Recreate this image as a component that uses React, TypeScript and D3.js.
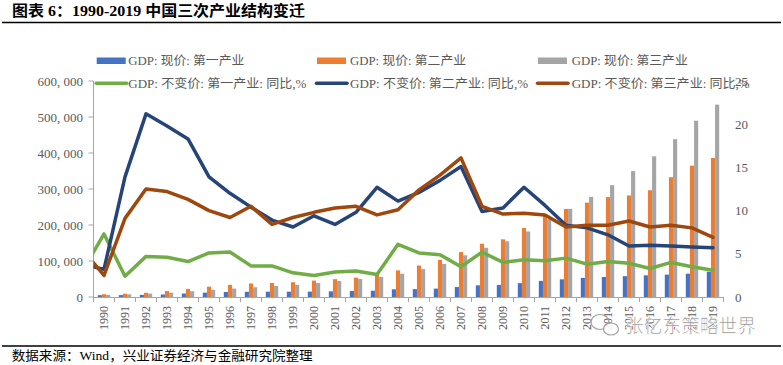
import React from 'react';
import * as d3 from 'd3';

const years = [1990,1991,1992,1993,1994,1995,1996,1997,1998,1999,2000,2001,2002,2003,2004,2005,2006,2007,2008,2009,2010,2011,2012,2013,2014,2015,2016,2017,2018,2019];
const gdpPrimary = [5062,5342,5866,6963,9572,12136,14015,14442,14818,14770,14945,15781,16537,17382,21413,21807,23317,27674,32464,33584,38430,44781,49085,53028,55626,57775,60139,62100,64745,70467];
const gdpSecondary = [7717,9102,11700,16454,22445,28679,33835,37543,39004,41034,45556,49512,53897,62436,73904,87365,103162,124799,148030,160172,191630,227039,244643,261956,277572,282040,296548,332743,364835,386165];
const gdpTertiary = [5814,7337,9357,11916,16180,19978,23326,26988,30580,33874,38714,44362,49899,56005,64561,77428,91760,115810,136806,154748,182058,216099,244822,277984,310654,349745,390828,438356,489701,534233];

const growthYears = [1989,1990,1991,1992,1993,1994,1995,1996,1997,1998,1999,2000,2001,2002,2003,2004,2005,2006,2007,2008,2009,2010,2011,2012,2013,2014,2015,2016,2017,2018,2019];
const growthPrimary = [3.1,7.3,2.4,4.7,4.6,4.1,5.1,5.2,3.6,3.6,2.8,2.5,2.9,3.0,2.6,6.1,5.1,4.9,3.5,5.2,4.0,4.3,4.2,4.5,3.8,4.1,3.9,3.3,4.0,3.5,3.1];
const growthSecondary = [3.8,3.2,13.9,21.2,19.8,18.3,13.9,12.0,10.4,8.9,8.1,9.4,8.4,9.8,12.7,11.1,12.1,13.5,15.1,9.9,10.3,12.7,10.6,8.3,8.0,7.2,5.9,6.0,5.9,5.8,5.7];
const growthTertiary = [5.4,2.5,9.1,12.5,12.2,11.3,10.0,9.2,10.5,8.4,9.2,9.8,10.3,10.5,9.5,10.1,12.4,14.1,16.1,10.5,9.6,9.7,9.5,8.1,8.3,8.3,8.8,8.1,8.3,8.0,6.9];

const leftTicks = [0,100000,200000,300000,400000,500000,600000];
const rightTicks = [0,5,10,15,20,25];

const barLabels = ['GDP: 现价: 第一产业','GDP: 现价: 第二产业','GDP: 现价: 第三产业'];
const lineLabels = ['GDP: 不变价: 第一产业: 同比,%','GDP: 不变价: 第二产业: 同比,%','GDP: 不变价: 第三产业: 同比,%'];
const barColors = ['#4472C4','#ED7D31','#A5A5A5'];
const lineColors = ['#70AD47','#264478','#9E480E'];

const titleText = '图表 6：1990-2019 中国三次产业结构变迁';
const sourceText = '数据来源：Wind，兴业证券经济与金融研究院整理';
const watermarkText = '张亿东策略世界';

const FONT = "'Liberation Serif','Noto Sans CJK SC',serif";

export default function App() {
  const left = 93.5, right = 723.5, top = 81, bottom = 297;
  const x = d3.scaleBand<number>().domain(years).range([left, right]).padding(0);
  const bw = x.bandwidth();
  const xl = d3.scaleLinear().domain([1990, 2019]).range([x(1990)! + bw / 2, x(2019)! + bw / 2]);
  const inner = d3.scaleBand<number>().domain([0, 1, 2]).range([bw / 2 - 6.2, bw / 2 + 6.2]).padding(0);
  const yL = d3.scaleLinear().domain([0, 600000]).range([bottom, top]);
  const yR = d3.scaleLinear().domain([0, 25]).range([bottom, top]);
  const barSeries = [gdpPrimary, gdpSecondary, gdpTertiary];
  const lineSeries = [growthPrimary, growthSecondary, growthTertiary];
  const line = d3.line<number>().x((_, i) => xl(growthYears[i])).y(d => yR(d));
  const fmtL = (v: number) => d3.format(',')(v).replace(/,/g, ', ');
  const boundaries = d3.range(years.length + 1).map(i => left + i * bw);

  const legendTextX = [128.3, 350, 571.7];
  const rectX = [96.7, 317, 538];

  return (
    <svg width={783} height={365} style={{ position: 'absolute', left: 0, top: 0, background: '#fff' }} fontFamily={FONT}>
      <defs>
        <clipPath id="plotClip"><rect x={left} y={0} width={783 - left} height={365} /></clipPath>
      </defs>
      <rect x={0} y={0} width={783} height={365} fill="#fff" />
      {/* title */}
      <text x={12} y={16} fontSize={15} fontWeight="bold" fill="#000" textLength={293} lengthAdjust="spacingAndGlyphs">{titleText}</text>
      <line x1={2} x2={781} y1={22.5} y2={22.5} stroke="#000" strokeWidth={1.5} />

      {/* bars */}
      {barSeries.map((s, k) => (
        <g key={k} fill={barColors[k]}>
          {s.map((v, i) => (
            <rect key={i} x={x(years[i])! + inner(k)!} width={inner.bandwidth()} y={yL(v)} height={bottom - yL(v)} />
          ))}
        </g>
      ))}

      {/* x axis */}
      <line x1={left} x2={right} y1={bottom + 0.5} y2={bottom + 0.5} stroke="#A6A6A6" />
      {boundaries.map((b, i) => (
        <line key={i} x1={b} x2={b} y1={bottom} y2={bottom + 5} stroke="#A6A6A6" />
      ))}
      {years.map(yr => (
        <text key={yr} transform={`translate(${x(yr)! + bw / 2 + 4},${bottom + 9}) rotate(-90)`} textAnchor="end" fontSize={12} fill="#595959">{yr}</text>
      ))}

      {/* left axis */}
      <line x1={left} x2={left} y1={top} y2={bottom} stroke="#A6A6A6" />
      {leftTicks.map(t => (
        <g key={t}>
          <line x1={left - 5} x2={left} y1={yL(t)} y2={yL(t)} stroke="#A6A6A6" />
          <text x={83} y={yL(t) + 4.5} textAnchor="end" fontSize={13} fill="#595959">{fmtL(t)}</text>
        </g>
      ))}
      {/* right axis labels */}
      {rightTicks.map(t => (
        <text key={t} x={735} y={yR(t) + 4.5} fontSize={13} fill="#595959">{t}</text>
      ))}

      {/* lines */}
      <g clipPath="url(#plotClip)">
        {lineSeries.map((s, k) => (
          <path key={k} d={line(s)!} fill="none" stroke={lineColors[k]} strokeWidth={3.5} strokeLinejoin="round" strokeLinecap="round" />
        ))}
      </g>

      {/* legend */}
      {barLabels.map((lab, k) => (
        <g key={k}>
          <rect x={rectX[k]} y={57.5} width={29} height={6.5} fill={barColors[k]} />
          <text x={legendTextX[k]} y={65} fontSize={12.5} fill="#595959" textLength={116} lengthAdjust="spacingAndGlyphs">{lab}</text>
        </g>
      ))}
      {lineLabels.map((lab, k) => (
        <g key={k}>
          <line x1={rectX[k] - 0.5} x2={rectX[k] + 30} y1={83.3} y2={83.3} stroke={lineColors[k]} strokeWidth={3.5} strokeLinecap="round" />
          <text x={legendTextX[k]} y={87.8} fontSize={12.5} fill="#595959" textLength={178} lengthAdjust="spacingAndGlyphs">{lab}</text>
        </g>
      ))}

      {/* watermark */}
      <g stroke="#9a9a9a" strokeWidth={1.2} fill="none" opacity={0.9}>
        <ellipse cx={600} cy={322} rx={9} ry={7.5} />
        <ellipse cx={611} cy={329} rx={7.5} ry={6} fill="#fff" />
      </g>
      <text x={625} y={333} fontSize={19} fill="#8c8c8c" stroke="#fff" strokeWidth={0.6} textLength={131} lengthAdjust="spacingAndGlyphs" fontFamily="'Noto Sans CJK SC',sans-serif">{watermarkText}</text>

      {/* footer */}
      <line x1={2} x2={781} y1={346} y2={346} stroke="#000" strokeWidth={1.5} />
      <text x={11.7} y={360} fontSize={13} fill="#000" textLength={301} lengthAdjust="spacingAndGlyphs">{sourceText}</text>
    </svg>
  );
}
